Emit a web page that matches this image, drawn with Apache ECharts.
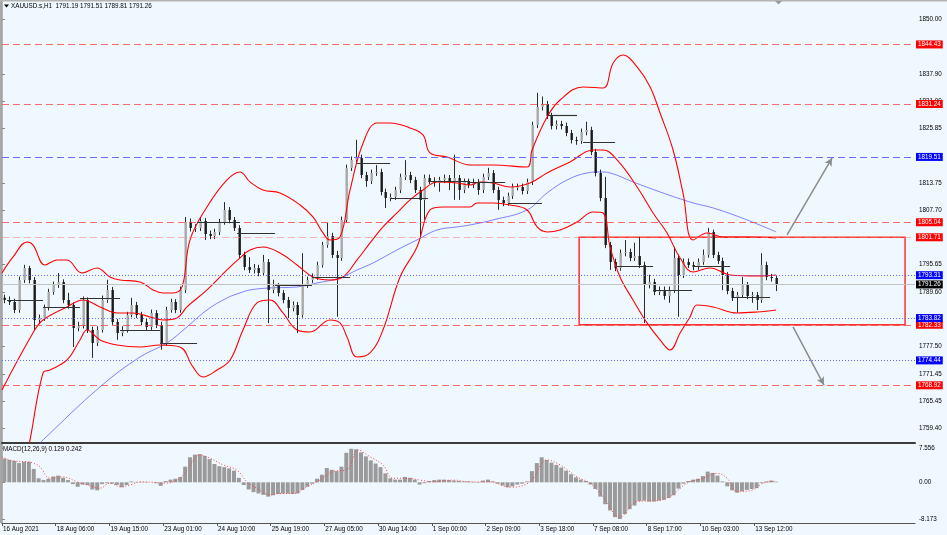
<!DOCTYPE html>
<html><head><meta charset="utf-8">
<script src="https://cdn.jsdelivr.net/npm/echarts@6/dist/echarts.min.js"></script>
<style>html,body{margin:0;padding:0;background:#F0F8FF}#c{width:947px;height:535px}</style>
</head><body><div id="c"></div>
<script>
// ---- time axis (hours from chart start) ----
const timeLabels = ['16 Aug 2021','18 Aug 06:00','19 Aug 15:00','23 Aug 01:00','24 Aug 10:00','25 Aug 19:00','27 Aug 05:00','30 Aug 14:00','1 Sep 00:00','2 Sep 09:00','3 Sep 18:00','7 Sep 08:00','8 Sep 17:00','10 Sep 03:00','13 Sep 12:00'];
const labelStepHours = 33;
const candleHours = 3;
const xMaxHours = 560.8;

// ---- XAUUSD H1 candles (3h sampling) ----
const opens = [1788.30,1787.83,1787.39,1785.61,1792.26,1794.92,1792.26,1783.40,1783.84,1786.06,1789.60,1791.15,1791.82,1787.83,1786.72,1781.63,1782.07,1787.83,1781.18,1778.31,1781.18,1787.83,1790.04,1782.96,1780.52,1781.18,1784.51,1786.72,1784.51,1782.96,1781.85,1784.95,1782.29,1778.31,1785.61,1787.39,1785.61,1790.04,1805.11,1803.78,1803.78,1805.33,1802.45,1802.01,1802.89,1805.11,1807.76,1805.55,1803.78,1797.80,1795.14,1794.47,1794.92,1793.81,1796.25,1790.04,1790.93,1789.38,1787.83,1786.06,1786.72,1784.51,1791.15,1792.26,1792.92,1795.58,1800.01,1802.01,1797.80,1797.13,1805.55,1817.07,1818.84,1819.28,1815.52,1814.19,1815.96,1816.18,1811.75,1810.42,1810.64,1812.19,1815.07,1815.52,1814.41,1812.19,1809.98,1814.85,1814.19,1813.75,1814.41,1814.85,1813.97,1814.85,1812.19,1813.97,1813.30,1813.97,1812.19,1815.07,1815.96,1812.19,1809.98,1809.32,1810.87,1812.86,1812.86,1811.97,1813.97,1826.59,1830.58,1831.24,1828.59,1826.37,1826.81,1826.37,1824.82,1823.27,1823.05,1825.04,1825.48,1820.61,1815.96,1810.42,1800.01,1796.25,1794.92,1798.24,1798.46,1797.13,1797.58,1795.58,1791.15,1791.82,1789.60,1790.04,1788.72,1790.04,1797.13,1793.37,1796.25,1795.58,1795.14,1796.25,1797.80,1802.89,1797.80,1796.47,1793.37,1789.82,1788.27,1788.94,1791.15,1788.72,1788.94,1787.83,1795.58,1792.92,1792.70];
const closes = [1787.83,1787.39,1785.61,1792.26,1794.92,1792.26,1783.40,1783.84,1786.06,1789.60,1791.15,1791.82,1787.83,1786.72,1781.63,1782.07,1787.83,1781.18,1778.31,1781.18,1787.83,1790.04,1782.96,1780.52,1781.18,1784.51,1786.72,1784.51,1782.96,1781.85,1784.95,1782.29,1778.31,1785.61,1787.39,1785.61,1790.04,1805.11,1803.78,1803.78,1805.33,1802.45,1802.01,1802.89,1805.11,1807.76,1805.55,1803.78,1797.80,1795.14,1794.47,1794.92,1793.81,1796.25,1790.04,1790.93,1789.38,1787.83,1786.06,1786.72,1784.51,1791.15,1792.26,1792.92,1795.58,1800.01,1802.01,1797.80,1797.13,1805.55,1817.07,1818.84,1819.28,1815.52,1814.19,1815.96,1816.18,1811.75,1810.42,1810.64,1812.19,1815.07,1815.52,1814.41,1812.19,1809.98,1814.85,1814.19,1813.75,1814.41,1814.85,1813.97,1814.85,1812.19,1813.97,1813.30,1813.97,1812.19,1815.07,1815.96,1812.19,1809.98,1809.32,1810.87,1812.86,1812.86,1811.97,1813.97,1826.59,1830.58,1831.24,1828.59,1826.37,1826.81,1826.37,1824.82,1823.27,1823.05,1825.04,1825.48,1820.61,1815.96,1810.42,1800.01,1796.25,1794.92,1798.24,1798.46,1797.13,1797.58,1795.58,1791.15,1791.82,1789.60,1790.04,1788.72,1790.04,1797.13,1793.37,1796.25,1795.58,1795.14,1796.25,1797.80,1802.89,1797.80,1796.47,1793.37,1789.82,1788.27,1788.94,1791.15,1788.72,1788.94,1787.83,1795.58,1792.92,1792.70,1791.26];
const highs = [1789.0,1788.6,1788.1,1793.0,1795.6,1795.4,1792.9,1784.6,1786.8,1790.3,1791.9,1793.8,1792.4,1789.4,1787.3,1783.0,1788.6,1788.4,1781.9,1782.0,1788.8,1792.3,1790.7,1783.6,1782.0,1785.2,1788.3,1787.4,1785.2,1783.7,1785.7,1785.6,1783.0,1786.3,1788.1,1788.0,1790.8,1806.2,1805.9,1804.6,1806.1,1806.0,1803.2,1803.6,1805.8,1809.5,1808.4,1806.2,1804.4,1798.5,1797.3,1795.8,1795.6,1797.8,1796.9,1792.3,1791.6,1790.0,1788.5,1787.5,1787.4,1798.2,1793.0,1793.7,1796.3,1800.7,1804.9,1802.7,1798.7,1806.3,1817.8,1819.6,1823.3,1820.0,1816.2,1816.7,1817.7,1816.9,1812.5,1811.4,1812.9,1815.8,1818.8,1816.2,1815.1,1812.9,1815.6,1815.6,1815.0,1815.1,1815.6,1815.5,1820.0,1815.5,1814.7,1814.7,1814.7,1814.6,1815.8,1817.1,1816.6,1812.9,1810.7,1811.6,1813.6,1813.6,1813.6,1814.7,1827.3,1833.7,1832.9,1831.9,1829.3,1827.6,1827.5,1827.1,1825.5,1824.0,1825.8,1827.3,1826.2,1821.3,1816.7,1815.1,1800.7,1797.0,1799.0,1801.1,1799.2,1800.5,1801.8,1796.3,1793.4,1792.5,1790.8,1790.8,1790.8,1799.6,1797.9,1797.0,1797.0,1796.3,1797.0,1799.0,1803.8,1803.4,1798.5,1797.2,1794.0,1790.5,1789.6,1792.9,1791.8,1789.6,1789.6,1798.2,1796.3,1793.6,1793.3];
const lows = [1787.1,1786.7,1784.9,1785.0,1791.6,1791.5,1781.2,1782.6,1783.2,1785.5,1789.0,1790.5,1787.1,1785.9,1777.4,1780.9,1781.5,1780.5,1775.0,1777.6,1780.6,1787.2,1782.3,1779.0,1779.8,1780.6,1784.0,1783.8,1782.2,1781.1,1781.2,1781.6,1776.8,1777.7,1785.0,1784.9,1785.0,1789.4,1803.0,1802.9,1803.1,1801.1,1801.3,1801.3,1802.2,1804.5,1804.8,1803.1,1797.1,1794.4,1793.8,1793.7,1793.1,1793.2,1782.7,1789.3,1788.6,1787.1,1783.8,1785.3,1780.5,1783.9,1790.5,1791.6,1792.3,1795.0,1799.4,1797.1,1784.1,1796.5,1805.0,1816.4,1818.1,1814.8,1812.9,1813.5,1815.3,1811.0,1808.2,1809.7,1810.0,1811.5,1814.4,1813.7,1811.5,1801.8,1805.6,1813.5,1812.9,1811.8,1813.7,1812.2,1810.0,1810.0,1811.5,1812.6,1812.6,1811.1,1811.5,1814.4,1811.5,1807.8,1808.6,1808.7,1810.2,1812.1,1811.2,1811.3,1813.3,1825.9,1829.8,1827.9,1825.6,1825.6,1825.6,1824.1,1822.5,1822.2,1822.4,1824.3,1819.9,1815.2,1809.7,1799.3,1794.5,1794.2,1794.3,1797.5,1796.4,1796.5,1794.9,1782.7,1790.4,1788.9,1788.9,1787.9,1787.2,1789.4,1784.1,1792.7,1794.9,1794.4,1794.5,1795.6,1797.2,1797.1,1795.8,1790.0,1789.1,1787.6,1785.0,1788.3,1788.0,1787.2,1785.6,1787.2,1792.2,1791.9,1789.8];

// ---- indicators: [hour, value] ----
const upperBand = [[0,1793.81],[6.8,1797.35],[15.4,1800.68],[19.0,1800.01],[26.4,1795.58],[33.8,1796.69],[39.9,1796.69],[49.1,1793.81],[58.4,1794.92],[66.3,1792.92],[72.5,1792.26],[84.8,1791.82],[92.8,1790.04],[98.9,1789.38],[105.0,1789.38],[110.6,1790.71],[115.5,1801.12],[125.9,1808.43],[138.2,1814.41],[146.2,1816.18],[152.3,1813.97],[160.3,1812.19],[170.8,1811.53],[183.1,1808.87],[191.0,1806.21],[197.2,1802.67],[201.5,1801.12],[207.6,1801.78],[213.8,1812.19],[221.8,1822.61],[230.4,1827.04],[238.4,1827.04],[250.6,1825.93],[258.6,1824.38],[262.9,1820.39],[273.4,1819.50],[287.5,1817.73],[301.6,1817.73],[322.5,1817.29],[325.6,1821.05],[334.8,1828.36],[342.8,1832.13],[356.9,1835.01],[369.2,1834.79],[375.4,1840.33],[381.5,1842.10],[390.1,1839.44],[398.1,1835.01],[404.2,1829.25],[412.2,1821.05],[418.3,1811.53],[424.5,1801.12],[433.1,1802.67],[442.9,1801.78],[457.7,1801.78],[475.5,1801.56]];
const middleBand = [[0,1767.89],[19.0,1780.52],[25.2,1783.40],[39.9,1786.28],[49.8,1787.83],[60.2,1786.28],[70.6,1784.95],[80.5,1784.95],[90.9,1784.06],[98.9,1783.40],[107.5,1783.84],[113.6,1786.28],[125.9,1790.04],[138.2,1794.47],[146.2,1797.13],[152.3,1798.90],[160.3,1799.57],[170.8,1798.24],[181.2,1795.58],[191.0,1792.92],[201.5,1792.26],[209.5,1792.92],[218.1,1796.69],[226.1,1800.46],[234.0,1804.00],[242.6,1807.10],[250.6,1809.98],[258.6,1812.19],[267.2,1813.97],[279.5,1813.75],[287.5,1813.30],[293.6,1813.97],[301.6,1813.75],[312.1,1812.86],[324.3,1813.75],[334.8,1815.96],[348.9,1818.40],[363.1,1821.05],[369.2,1821.05],[377.8,1818.84],[390.1,1812.86],[399.9,1807.10],[408.5,1802.67],[416.5,1797.13],[424.5,1794.03],[434.9,1794.92],[447.2,1793.37],[463.8,1793.15],[475.5,1793.37]];
const lowerBand = [[12.0,1748.0],[17.2,1756.82],[25.2,1771.66],[29.5,1772.32],[39.9,1774.53],[47.9,1778.97],[52.2,1781.18],[60.2,1778.97],[70.6,1777.86],[84.8,1777.42],[97.1,1777.86],[109.3,1777.42],[117.3,1772.99],[123.5,1770.77],[132.1,1772.32],[140.1,1774.53],[148.0,1781.18],[156.6,1787.17],[164.6,1787.83],[172.6,1784.95],[181.2,1781.18],[189.2,1780.74],[201.5,1783.40],[207.6,1782.74],[211.9,1779.63],[218.1,1775.20],[226.1,1776.09],[234.0,1781.18],[244.5,1792.92],[254.9,1799.57],[262.9,1807.76],[270.9,1808.43],[287.5,1808.43],[291.8,1809.32],[301.6,1809.32],[312.1,1808.87],[322.5,1807.76],[328.7,1804.00],[334.8,1802.89],[342.8,1803.33],[353.2,1805.11],[363.1,1807.32],[369.2,1807.10],[373.5,1799.57],[379.6,1792.92],[387.6,1787.83],[396.2,1782.74],[404.2,1778.97],[410.4,1776.75],[416.5,1780.52],[422.6,1784.06],[426.9,1786.72],[436.8,1786.28],[451.5,1784.95],[463.8,1785.17],[475.5,1785.61]];
const movingAverage = [[19.0,1754.6],[25.2,1756.82],[60.2,1768.56],[84.8,1775.20],[101.4,1778.31],[113.6,1781.85],[125.9,1785.61],[138.2,1788.27],[146.2,1789.38],[152.3,1790.04],[164.6,1790.49],[181.2,1790.71],[193.5,1791.59],[207.6,1792.70],[218.1,1794.47],[227.9,1796.02],[242.6,1798.90],[254.9,1801.12],[267.2,1803.33],[279.5,1804.00],[287.5,1804.44],[301.6,1805.55],[322.5,1807.76],[334.8,1811.53],[347.1,1814.41],[359.4,1815.96],[367.4,1816.18],[373.5,1815.96],[387.6,1813.97],[404.2,1811.75],[424.5,1809.32],[436.8,1808.21],[457.7,1805.55],[475.5,1802.89]];

// ---- MACD(12,26,9) ----
const macdHist = [5.3,5.0,4.8,4.3,4.6,4.6,3.0,0.9,0.5,0.8,1.3,1.5,1.0,0.5,-0.4,-1.0,-0.5,-0.6,-1.6,-1.8,-0.4,-0.2,-0.3,-0.6,-1.1,-0.6,0.2,0.1,0.1,0.1,0.0,-0.2,-0.8,0.3,0.6,0.8,1.2,3.5,5.6,6.2,6.3,5.9,5.2,4.1,3.6,3.4,3.1,2.6,1.0,-0.6,-1.6,-2.2,-2.5,-2.8,-3.2,-2.9,-2.6,-2.5,-2.5,-2.6,-2.5,-1.7,-1.0,-0.3,0.8,1.7,3.2,2.8,2.5,3.5,6.6,7.5,7.4,6.7,5.8,4.9,4.2,3.4,2.0,0.9,0.6,0.6,1.2,1.0,0.6,-0.5,-0.2,0.3,0.5,0.6,0.6,0.5,0.4,0.3,0.2,0.2,0.1,-0.1,0.4,0.6,0.2,-0.3,-0.7,-1.1,-0.9,-0.5,-0.3,0.2,2.5,4.3,5.6,5.0,4.4,3.9,3.3,2.6,1.8,1.1,0.6,0.3,-0.5,-1.5,-3.2,-4.9,-6.3,-7.8,-8.2,-7.1,-6.0,-5.2,-4.2,-4.1,-4.3,-4.3,-4.1,-3.9,-3.5,-2.9,-1.4,-0.3,0.3,0.6,0.8,1.4,2.4,2.1,1.5,0.2,-0.9,-1.8,-2.3,-2.0,-1.7,-1.5,-1.3,-0.2,0.2,0.4,0.13];
const macdSignal = [[0,5.7],[6.8,4.8],[15.4,4.6],[19.0,4.3],[23.3,3.5],[29.5,0.9],[37.5,1.2],[46.1,0.1],[54.1,-0.8],[60.2,-1.3],[66.3,-0.2],[72.5,-1.0],[78.6,-0.6],[84.8,0.1],[92.8,0.0],[98.9,-0.2],[107.5,0.5],[113.6,2.7],[121.6,6.1],[127.8,5.4],[135.8,3.9],[144.4,2.7],[150.5,0.1],[156.6,-1.3],[164.6,-2.8],[170.8,-2.5],[178.8,-2.5],[187.4,-1.0],[195.3,0.5],[203.3,2.4],[211.9,2.8],[218.7,7.2],[226.1,5.7],[234.0,3.9],[240.2,0.9],[248.8,0.9],[256.8,0.5],[264.8,0.1],[277.1,0.5],[287.5,0.1],[299.8,0.1],[312.1,-1.1],[324.3,0.1],[334.8,5.0],[342.8,3.9],[353.2,1.2],[361.2,-0.2],[369.2,-3.2],[379.6,-7.8],[390.1,-4.3],[402.4,-4.1],[410.4,-3.2],[420.8,-0.2],[430.6,0.9],[439.2,2.0],[445.4,0.9],[451.5,-2.1],[461.3,-1.7],[467.5,-0.2],[475.5,0.24]];

// ---- axis ticks ----
const priceTicks = [1850.00,1837.90,1831.90,1825.85,1813.75,1807.70,1795.65,1789.60,1777.50,1771.45,1765.45,1759.40];
const macdTicks = [7.556,0,-8.173];
const priceRange = [1756.25,1853.83];
const macdRange = [-9.10,8.68];

// ---- drawn objects ----
const redLevels = [1844.43,1831.24,1805.04,1782.33,1768.92];
const pinkLevels = [1801.71];
const blueDashLevels = [1819.51];
const blueDotLevels = [1793.31,1783.82,1774.44];
const lastPrice = 1791.26;
const pivotSegments = [[3.1,25.2,1787.83],[25.2,47.9,1786.28],[47.9,72.5,1788.27],[72.5,97.1,1781.18],[97.1,119.8,1778.31],[119.8,146.2,1805.11],[144.4,167.7,1802.67],[167.7,190.4,1791.15],[190.4,213.8,1792.92],[218.1,238.4,1818.18],[238.4,261.7,1810.42],[261.7,287.5,1814.19],[287.5,309.0,1813.97],[310.8,331.7,1809.32],[335.4,353.2,1828.81],[356.9,376.6,1822.83],[377.8,399.9,1795.36],[399.9,423.9,1790.04],[424.5,447.2,1795.36],[449.1,471.8,1788.50]];
const boxZone = [[354.5,1801.71],[554.7,1782.33]];
const arrowLines = [[[482.2,1802.23],[509.9,1819.28]],[[485.9,1781.85],[504.9,1768.98]]];

const headerText = 'XAUUSD.s,H1  1791.19 1791.51 1789.81 1791.26';
const macdTitle = 'MACD(12,26,9) 0.129 0.242';

// ---------------------------------------------------------------
const FONT = 'Liberation Sans';
const FS = 6.3;
const chart = echarts.init(document.getElementById('c'), null, {renderer:'canvas'});

const candleData = opens.map((o,i)=>[i*candleHours+candleHours/2, o, closes[i], lows[i], highs[i]]);
const histData = macdHist.map((v,i)=>[i*candleHours+candleHours/2, v]);
const tickHours = timeLabels.map((_,i)=>i*labelStepHours);

function levelItem(v, lineColor, lineType, boxColor, width){
  return {yAxis:v, lineStyle:{color:lineColor, type:lineType, width:width||1},
    label:{show:true, position:'end', distance:1, formatter:v.toFixed(2), color:'#fff',
      backgroundColor:boxColor, padding:[1,2,0,2], fontSize:FS, fontFamily:FONT, lineHeight:7}};
}
const levelData = [];
redLevels.forEach(v=>levelData.push(levelItem(v,'rgba(255,60,60,0.75)',[7,4],'#ff0000')));
pinkLevels.forEach(v=>levelData.push(levelItem(v,'rgba(255,120,120,0.55)',[7,4],'#ff0000')));
blueDashLevels.forEach(v=>levelData.push(levelItem(v,'#6b6bff',[7,4],'#0000ff')));
blueDotLevels.forEach(v=>levelData.push(levelItem(v,'#6a6aff',[1,2],'#0000ff')));
levelData.push(levelItem(lastPrice,'#c4c4c4','solid','#000000'));

const pivotData = pivotSegments.map(s=>[{coord:[s[0],s[2]]},{coord:[s[1],s[2]]}]);
const arrowData = arrowLines.map(a=>[{coord:a[0], symbol:'none'},{coord:a[1], symbol:'arrow', symbolSize:[6,8]}]);

const option = {
  animation:false,
  backgroundColor:'#F0F8FF',
  textStyle:{fontFamily:FONT},
  grid:[
    {left:2, right:32, top:2, height:440.5, outerBoundsMode:'none', containLabel:false},
    {left:2, right:32, top:443.5, height:79.5, outerBoundsMode:'none', containLabel:false}
  ],
  xAxis:[
    {type:'value', gridIndex:0, min:0, max:xMaxHours, splitLine:{show:false},
      axisLine:{show:true, onZero:false, lineStyle:{color:'#3c3c3c', width:2}},
      axisTick:{show:false}, axisLabel:{show:false}},
    {type:'value', gridIndex:1, min:0, max:xMaxHours, splitLine:{show:false},
      axisLine:{show:true, onZero:false, lineStyle:{color:'#555', width:1}},
      axisTick:{show:true, length:3, customValues:tickHours, lineStyle:{color:'#555'}},
      axisLabel:{show:true, customValues:tickHours, align:'left', margin:3, padding:[0,0,0,1],
        fontSize:FS, fontFamily:FONT, color:'#000',
        formatter:v=>timeLabels[Math.round(v/labelStepHours)]||''}}
  ],
  yAxis:[
    {type:'value', gridIndex:0, position:'right', min:priceRange[0], max:priceRange[1], splitLine:{show:false},
      axisLine:{show:true, lineStyle:{color:'#a0a0a0', width:1.5}},
      axisTick:{show:true, length:3, customValues:priceTicks, lineStyle:{color:'#888'}},
      axisLabel:{show:true, customValues:priceTicks, margin:4, fontSize:FS, fontFamily:FONT, color:'#000',
        formatter:v=>v.toFixed(2)}},
    {type:'value', gridIndex:1, position:'right', min:macdRange[0], max:macdRange[1], splitLine:{show:false},
      axisLine:{show:true, lineStyle:{color:'#a0a0a0', width:1.5}},
      axisTick:{show:true, length:3, customValues:macdTicks, lineStyle:{color:'#888'}},
      axisLabel:{show:true, customValues:macdTicks, margin:4, fontSize:FS, fontFamily:FONT, color:'#000',
        formatter:v=>v===0?'0.00':v.toFixed(3)}}
  ],
  series:[
    {type:'line', name:'ma', xAxisIndex:0, yAxisIndex:0, data:movingAverage, showSymbol:false, smooth:0.4,
      clip:true, z:2, lineStyle:{color:'rgba(90,90,255,0.75)', width:1},
      markLine:{silent:true, symbol:['none','none'], data:levelData, animation:false}},
    {type:'custom', name:'candles', xAxisIndex:0, yAxisIndex:0, clip:true, z:3,
      data:candleData, encode:{x:0, y:[1,2,3,4]},
      renderItem:(params, api)=>{
        const x=api.value(0), o=api.value(1), c=api.value(2), l=api.value(3), h=api.value(4);
        const po=api.coord([x,o]), pc=api.coord([x,c]), pl=api.coord([x,l]), ph=api.coord([x,h]);
        const cx=Math.round(po[0])+0.5;
        const top=Math.min(po[1],pc[1]), hgt=Math.max(1,Math.abs(po[1]-pc[1]));
        return {type:'group', children:[
          {type:'line', shape:{x1:cx,y1:ph[1],x2:cx,y2:pl[1]}, style:{stroke:'#2a2a2a', lineWidth:1}},
          {type:'rect', shape:{x:cx-1,y:top,width:2.4,height:hgt},
            style:{fill:c>=o?'#a8a8a8':'#1a1a1a', stroke:null}}
        ]};
      }},
    {type:'line', name:'upper', xAxisIndex:0, yAxisIndex:0, data:upperBand, showSymbol:false, smooth:0.4, clip:true, z:4,
      lineStyle:{color:'#ff0000', width:1.1}},
    {type:'line', name:'middle', xAxisIndex:0, yAxisIndex:0, data:middleBand, showSymbol:false, smooth:0.4, clip:true, z:4,
      lineStyle:{color:'#ff0000', width:1.1},
      markLine:{silent:true, symbol:['none','none'], label:{show:false}, lineStyle:{color:'#333', width:1.2, type:'solid'}, data:pivotData, animation:false},
      markArea:{silent:true, itemStyle:{color:'rgba(0,0,0,0)', borderColor:'#ff3030', borderWidth:1.5}, data:[[{coord:boxZone[0]},{coord:boxZone[1]}]]}},
    {type:'line', name:'lower', xAxisIndex:0, yAxisIndex:0, data:lowerBand, showSymbol:false, smooth:0.4, clip:true, z:4,
      lineStyle:{color:'#ff0000', width:1.1},
      markLine:{silent:true, symbol:['none','arrow'], symbolSize:[6,8], label:{show:false}, lineStyle:{color:'#8c8c8c', width:1.5, type:'solid'}, data:arrowData, animation:false}},
    {type:'bar', name:'hist', xAxisIndex:1, yAxisIndex:1, data:histData, barWidth:4, z:2,
      itemStyle:{color:'#9a9a9a'}},
    {type:'line', name:'signal', xAxisIndex:1, yAxisIndex:1, data:macdSignal, showSymbol:false, smooth:0.4, z:3,
      lineStyle:{color:'#ff4040', width:1, type:[1,2]}}
  ],
  graphic:[
    {type:'rect', shape:{x:0,y:0,width:2,height:523}, style:{fill:'#a8a8a8'}, silent:true},
    {type:'rect', shape:{x:0,y:0,width:947,height:1.5}, style:{fill:'#b4b4b4'}, silent:true},
    {type:'polygon', shape:{points:[[775,1],[782,1],[778.5,4.5]]}, style:{fill:'#9a9a9a'}, silent:true},
    {type:'polygon', shape:{points:[[4,4.5],[9,4.5],[6.5,7.5]]}, style:{fill:'#000'}, silent:true},
    {type:'text', x:11, y:6.5, style:{text:headerText, fill:'#000', font:FS+'px "'+FONT+'"', verticalAlign:'middle'}, silent:true},
    {type:'text', x:3, y:449, style:{text:macdTitle, fill:'#000', font:FS+'px "'+FONT+'"', verticalAlign:'middle'}, silent:true}
  ]
};
chart.setOption(option);
</script>
</body></html>
